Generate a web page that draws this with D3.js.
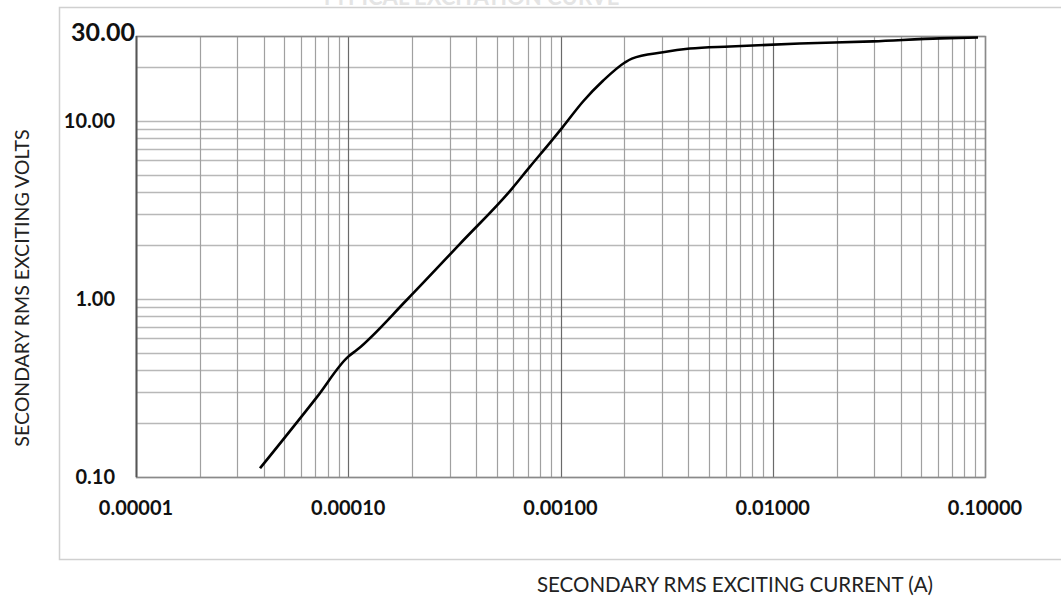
<!DOCTYPE html>
<html lang="en">

<head>
  <meta charset="utf-8">
  <title>Excitation curve</title>
  <script type="text/javascript" src="https://cdn.jsdelivr.net/npm/d3@7"></script>
  <style>
    body { margin: 0; background: #fff; }
    svg { display: block; font-family: Lato, "Open Sans", sans-serif; }
  </style>
</head>

<body>
  <div class="chart"></div>

  <script type="text/javascript">
    var w = 1061,
      h = 601;

    // curve (current in A, voltage in V)
    var currentA = [0.0000384, 0.0000713, 0.0000997, 0.00011, 0.000189, 0.000336, 0.000591, 0.000718, 0.000893,
      0.00102, 0.00128, 0.00159, 0.00201, 0.00217, 0.00304, 0.00407, 0.00629, 0.0134, 0.0297, 0.0614, 0.0927];
    var voltsV = [0.112, 0.282, 0.473, 0.518, 0.99, 2.04, 4.17, 5.54, 7.56,
      9.18, 12.9, 16.87, 21.3, 22.4, 24.3, 25.5, 26.2, 27.2, 27.97, 29.1, 29.4];

    var xTicks = [0.00001, 0.0001, 0.001, 0.01, 0.1];
    var xTickLabels = ["0.00001", "0.00010", "0.00100", "0.01000", "0.10000"];
    var yTicks = [0.1, 1, 10, 30];
    var yTickLabels = ["0.10", "1.00", "10.00", "30.00"];

    var xTitle = "SECONDARY RMS EXCITING CURRENT (A)";
    var yTitle = "SECONDARY RMS EXCITING VOLTS";

    var plot = { left: 136, right: 985, top: 36, bottom: 477 };

    var svg = d3.select('.chart')
      .append('svg')
      .attr('width', w)
      .attr('height', h);

    var x = d3.scaleLog().domain([0.00001, 0.1]).range([plot.left, plot.right]);
    var y = d3.scaleLog().domain([0.1, 30]).range([plot.bottom, plot.top]);

    // faint heading, cut off by the top of the picture as in the original
    svg.append("text")
      .attr("x", 470).attr("y", 5)
      .attr("text-anchor", "middle")
      .style("font-size", "22px").style("font-weight", "bold")
      .style("fill", "#e4e4e4")
      .text("TYPICAL EXCITATION CURVE");

    // outer chart frame
    svg.append("rect")
      .attr("x", 59.5).attr("y", 7.5)
      .attr("width", 1100).attr("height", 552)
      .style("fill", "none").style("stroke", "#d0d0d0").style("stroke-width", 1.5);

    // grid lines: every integer multiple in each decade
    var xGrid = [];
    for (var e = -5; e < -1; e++)
      for (var m = 1; m < 10; m++) xGrid.push(m * Math.pow(10, e));
    xGrid.push(0.1);

    var yGrid = [];
    for (var e2 = -1; e2 < 1; e2++)
      for (var m2 = 1; m2 < 10; m2++) yGrid.push(m2 * Math.pow(10, e2));
    yGrid.push(10, 20, 30);

    svg.append("g").selectAll("line")
      .data(yGrid)
      .enter()
      .append("line")
      .attr("x1", plot.left).attr("x2", plot.right)
      .attr("y1", function(d) { return Math.round(y(d)) + 0.5; })
      .attr("y2", function(d) { return Math.round(y(d)) + 0.5; })
      .style("stroke", "#b8b8b8").style("stroke-width", 1.3);

    svg.append("g").selectAll("line")
      .data(xGrid)
      .enter()
      .append("line")
      .attr("x1", function(d) { return Math.round(x(d)) + 0.5; })
      .attr("x2", function(d) { return Math.round(x(d)) + 0.5; })
      .attr("y1", plot.top).attr("y2", plot.bottom)
      .style("stroke", function(d) {
        var l = Math.log10(d);
        return Math.abs(l - Math.round(l)) < 1e-9 ? "#6a6a6a" : "#a0a0a0";
      })
      .style("stroke-width", 1.2);

    // plot border
    svg.append("rect")
      .attr("x", plot.left + 0.5).attr("y", plot.top + 0.5)
      .attr("width", plot.right - plot.left).attr("height", plot.bottom - plot.top)
      .style("fill", "none").style("stroke", "#8a8a8a").style("stroke-width", 1.5);

    svg.append("line")
      .attr("x1", plot.left + 0.5).attr("x2", plot.left + 0.5)
      .attr("y1", plot.top).attr("y2", plot.bottom)
      .style("stroke", "#555").style("stroke-width", 1.8);

    // tick labels
    svg.append("g").selectAll("text")
      .data(xTicks)
      .enter()
      .append("text")
      .attr("x", function(d) { return x(d); })
      .attr("y", 515)
      .attr("text-anchor", "middle")
      .style("font-size", "20px").style("font-weight", "bold").style("fill", "#111")
      .text(function(d, i) { return xTickLabels[i]; });

    svg.append("g").selectAll("text")
      .data(yTicks)
      .enter()
      .append("text")
      .attr("x", function(d) { return d === 30 ? 135 : 115; })
      .attr("y", function(d) { return d === 30 ? y(d) + 5 : y(d) + 7; })
      .attr("text-anchor", "end")
      .style("font-size", function(d) { return d === 30 ? "25px" : "20px"; })
      .style("font-weight", "bold").style("fill", "#111")
      .text(function(d, i) { return yTickLabels[i]; });

    // axis titles
    svg.append("text")
      .attr("x", 735).attr("y", 592)
      .attr("text-anchor", "middle")
      .style("font-size", "20.5px").style("fill", "#222")
      .text(xTitle);

    svg.append("text")
      .attr("transform", "translate(29,288) rotate(-90)")
      .attr("text-anchor", "middle")
      .style("font-size", "19.5px").style("fill", "#222")
      .text(yTitle);

    // the curve
    var line = d3.line()
      .x(function(d, i) { return x(currentA[i]); })
      .y(function(d, i) { return y(voltsV[i]); })
      .curve(d3.curveMonotoneX);

    svg.append("path")
      .attr("d", line(currentA))
      .style("fill", "none")
      .style("stroke", "#000")
      .style("stroke-width", 2.6)
      .style("stroke-linejoin", "round");
  </script>

</body>

</html>
